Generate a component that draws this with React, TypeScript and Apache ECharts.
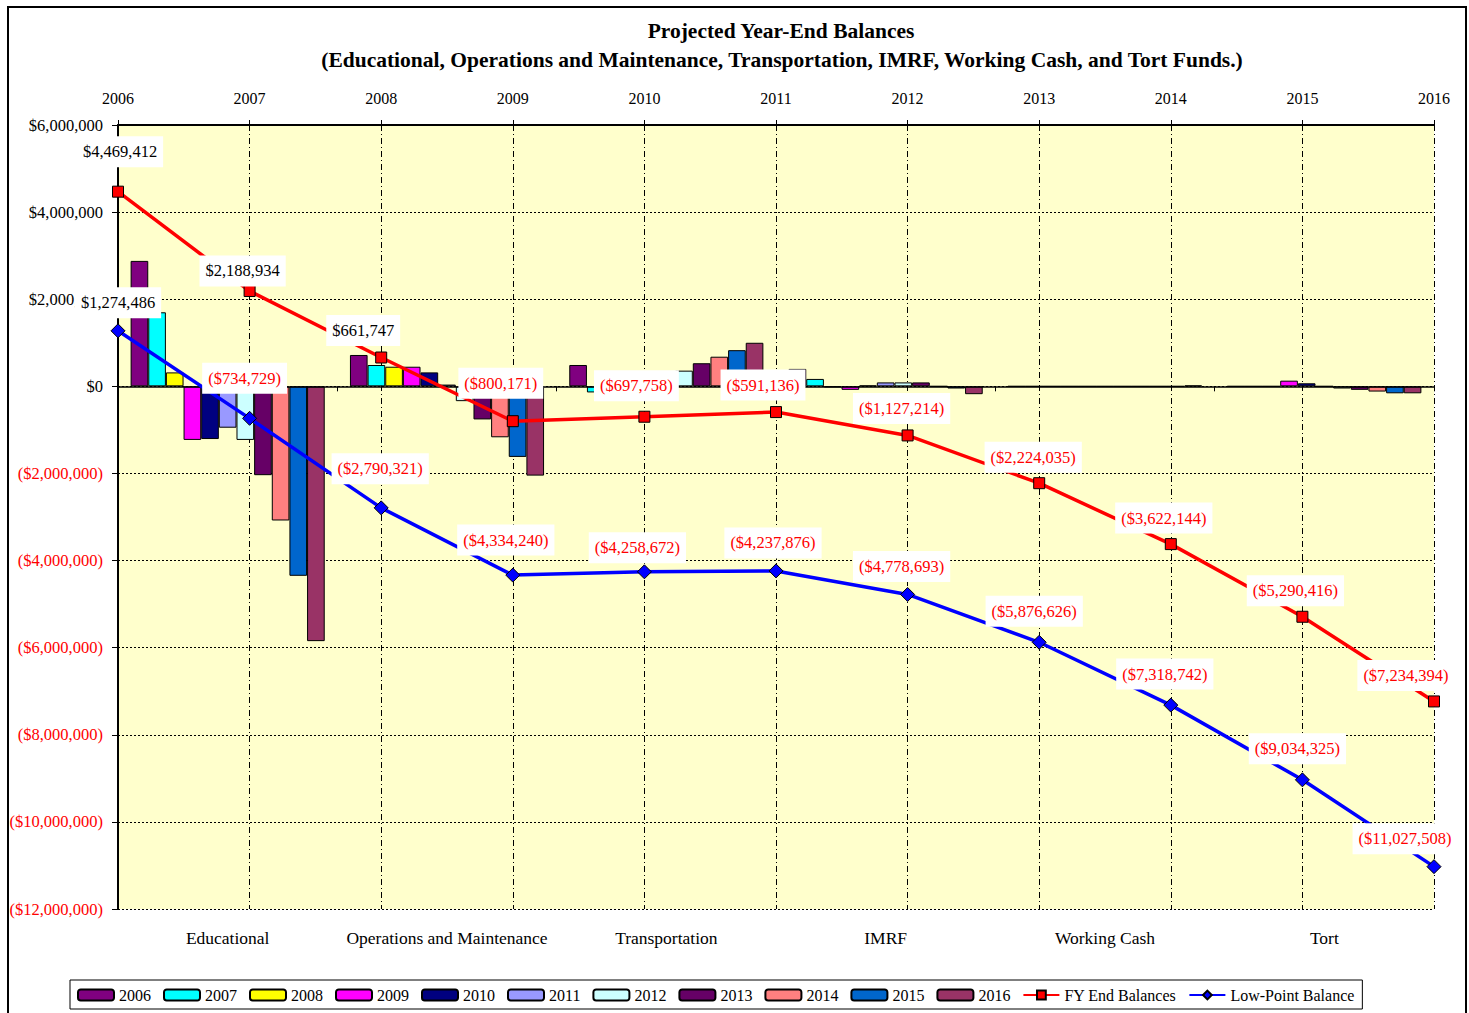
import React, { useEffect, useRef } from "react";
import * as echarts from "echarts";

const funds = ["Educational", "Operations and Maintenance", "Transportation", "IMRF", "Working Cash", "Tort"];
const years = ["2006", "2007", "2008", "2009", "2010", "2011", "2012", "2013", "2014", "2015", "2016"];

// bar values per year, one value per fund (Educational, O&M, Transportation, IMRF, Working Cash, Tort)
const bars2006 = [2880000, 720000, 490000, 400000, 0, 0];
const bars2007 = [1700000, 490000, -140000, 170000, 0, 0];
const bars2008 = [320000, 450000, 60000, -20000, 0, 0];
const bars2009 = [-1230000, 450000, 80000, -80000, 0, 130000];
const bars2010 = [-1210000, 320000, 60000, 20000, 0, 70000];
const bars2011 = [-950000, 40000, 190000, 90000, 0, 0];
const bars2012 = [-1230000, -340000, 360000, 90000, 0, -50000];
const bars2013 = [-2040000, -760000, 530000, 90000, 0, -80000];
const bars2014 = [-3080000, -1170000, 680000, 0, 0, -120000];
const bars2015 = [-4350000, -1620000, 830000, -50000, 0, -160000];
const bars2016 = [-5850000, -2050000, 1000000, -180000, 20000, -160000];

const fyEndBalances = [4469412, 2188934, 661747, -800171, -697758, -591136, -1127214, -2224035, -3622144, -5290416, -7234394];
const lowPointBalances = [1274486, -734729, -2790321, -4334240, -4258672, -4237876, -4778693, -5876626, -7318742, -9034325, -11027508];

const yTicks = { min: -12000000, max: 6000000, interval: 2000000 };

// layout: label nudges [dx, dy] from each point
const fyLabelNudge = [[2, -40], [-7, -20], [-18, -27], [-12, -38], [-8, -31], [-13, -27], [-6, -27], [-6, -26], [-7, -26], [-7, -26], [-28, -26]];
const lowLabelNudge = [[0, -28], [-5, -40], [-1, -39], [-7, -35], [-7, -24], [-3, -28], [-6, -28], [-5, -31], [-6, -31], [-5, -31], [-29, -28]];

const barSeriesValues = [bars2006, bars2007, bars2008, bars2009, bars2010, bars2011, bars2012, bars2013, bars2014, bars2015, bars2016];
const barColors = ["#800080", "#00FFFF", "#FFFF00", "#FF00FF", "#000080", "#9999FF", "#CCFFFF", "#660066", "#FF8080", "#0066CC", "#993366"];

const FONT = "'Liberation Serif', 'Times New Roman', serif";

function money(v: number): string {
  const s = "$" + Math.abs(Math.round(v)).toLocaleString("en-US");
  return v < 0 ? "(" + s + ")" : s;
}

export default function App() {
  const ref = useRef<HTMLDivElement>(null);
  useEffect(() => {
    document.body.style.margin = "0";
    const chart = echarts.init(ref.current!, null, { renderer: "svg" });

    const barSeries = years.map((y, i) => ({
      name: y,
      type: "bar",
      xAxisIndex: 0,
      yAxisIndex: 0,
      data: barSeriesValues[i],
      barGap: "0%",
      barCategoryGap: "11.5%",
      itemStyle: { color: barColors[i], borderColor: "#000", borderWidth: 1 },
      z: 2,
    }));

    const mkLine = (name: string, vals: number[], nudges: number[][], color: string, symbol: string, size: number) => ({
      name,
      type: "line",
      xAxisIndex: 1,
      yAxisIndex: 0,
      symbol,
      symbolSize: size,
      z: 5,
      lineStyle: { color, width: 3.5 },
      itemStyle: { color, borderColor: "#000", borderWidth: 1 },
      data: vals.map((v, i) => ({
        value: v,
        label: { offset: nudges[i], color: v < 0 ? "#FF0000" : "#000" },
      })),
      label: {
        show: true,
        position: "inside",
        formatter: (p: any) => money(p.value),
        color: "#000",
        backgroundColor: "#fff",
        padding: [7, 6],
        fontSize: 16.5,
        fontFamily: FONT,
      },
    });

    const fyLine: any = mkLine("FY End Balances", fyEndBalances, fyLabelNudge, "#FF0000", "rect", 11);
    const lowLine: any = mkLine("Low-Point Balance", lowPointBalances, lowLabelNudge, "#0000FF", "diamond", 14);

    chart.setOption({
      animation: false,
      backgroundColor: "#fff",
      textStyle: { fontFamily: FONT },
      graphic: [
        { type: "rect", shape: { x: 8, y: 7, width: 1458, height: 1030 }, style: { fill: "none", stroke: "#000", lineWidth: 2 }, silent: true },
        { type: "text", x: 781, y: 31, style: { text: "Projected Year-End Balances", font: "bold 21.5px " + FONT, fill: "#000", textAlign: "center", textVerticalAlign: "middle" } },
        { type: "text", x: 782, y: 60, style: { text: "(Educational, Operations and Maintenance, Transportation, IMRF, Working Cash, and Tort Funds.)", font: "bold 21.5px " + FONT, fill: "#000", textAlign: "center", textVerticalAlign: "middle" } },
      ],
      grid: { left: 118, right: 35, top: 125, bottom: 104, show: true, backgroundColor: "#FFFFCC", borderWidth: 0 },
      legend: {
        left: 70,
        top: 980,
        padding: [7, 8, 6, 7],
        borderColor: "#000",
        borderWidth: 1,
        backgroundColor: "#fff",
        itemWidth: 36,
        itemHeight: 11,
        itemGap: 12,
        textStyle: { fontSize: 16, fontFamily: FONT, color: "#000" },
        data: [...years, "FY End Balances", "Low-Point Balance"],
      },
      xAxis: [
        {
          type: "category",
          data: funds,
          position: "bottom",
          axisLine: { onZero: true, lineStyle: { color: "#000", width: 1.5 } },
          axisTick: { show: true, length: 5, lineStyle: { color: "#000" } },
          axisLabel: { show: false },
          splitLine: { show: false },
          z: 3,
        },
        {
          type: "category",
          data: years,
          position: "top",
          boundaryGap: false,
          axisLine: { onZero: false, lineStyle: { color: "#000", width: 2 } },
          axisTick: { show: true, length: 5, lineStyle: { color: "#000" } },
          axisLabel: { margin: 19, fontSize: 16, fontFamily: FONT, color: "#000" },
          splitLine: { show: true, lineStyle: { color: "#000", width: 1, type: [6, 3, 1, 3] } },
        },
        {
          type: "category",
          data: funds,
          position: "bottom",
          axisLine: { show: false, onZero: false },
          axisTick: { show: false },
          axisLabel: { interval: 0, margin: 20, fontSize: 17.5, fontFamily: FONT, color: "#000" },
          splitLine: { show: false },
        },
      ],
      yAxis: [
        {
          type: "value",
          min: yTicks.min,
          max: yTicks.max,
          interval: yTicks.interval,
          axisLine: { show: true, lineStyle: { color: "#000", width: 2 } },
          axisTick: { show: true, length: 6, lineStyle: { color: "#000" } },
          splitLine: { show: true, lineStyle: { color: "#000", width: 1, type: [2, 2] } },
          axisLabel: {
            margin: 15,
            formatter: (v: number) => (v < 0 ? "{neg|" + money(v) + "}" : "{pos|" + money(v) + "}"),
            rich: {
              neg: { color: "#FF0000", fontSize: 16.5, fontFamily: FONT },
              pos: { color: "#000", fontSize: 16.5, fontFamily: FONT },
            },
          },
        },
      ],
      series: [...barSeries, fyLine, lowLine],
    });
    return () => chart.dispose();
  }, []);
  return <div ref={ref} style={{ width: 1469, height: 1013 }} />;
}
